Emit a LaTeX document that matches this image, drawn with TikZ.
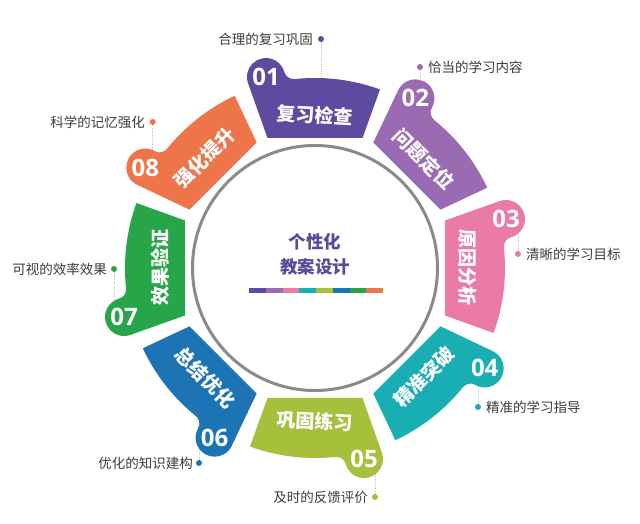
\documentclass[tikz,border=0pt]{standalone}
\usepackage{fontspec}
\newfontfamily\cjk{Noto Sans CJK SC}
\newfontfamily\numfont{Open Sans}
\definecolor{c1}{HTML}{5E4B9F}
\definecolor{c2}{HTML}{9A6BB3}
\definecolor{c3}{HTML}{E97BA6}
\definecolor{c4}{HTML}{18AEB4}
\definecolor{c5}{HTML}{A6C03B}
\definecolor{c6}{HTML}{1C74B4}
\definecolor{c7}{HTML}{27A548}
\definecolor{c8}{HTML}{EE744A}
\definecolor{ringgray}{HTML}{8A8A8A}
\definecolor{txtgray}{HTML}{3C3C3C}
\definecolor{ctrpurple}{HTML}{5B4A9B}
\tikzset{
  seglabel/.style={text=white, font=\cjk\bfseries\fontsize{19}{20}\selectfont, inner sep=0pt},
  numlabel/.style={text=white, font=\numfont\bfseries\fontsize{24}{24}\selectfont, inner sep=0pt},
  outlabel/.style={text=txtgray, font=\cjk\fontsize{13.5}{14}\selectfont, inner sep=0pt},
  ctrlabel/.style={text=ctrpurple, font=\cjk\bfseries\fontsize{17.5}{18}\selectfont, inner sep=0pt},
  dotmark/.style={circle, fill=#1, minimum size=6pt, inner sep=0pt},
  leader/.style={draw=gray!55, line width=0.7pt, dash pattern=on 0.8pt off 1.6pt},
}
\begin{document}
\begin{tikzpicture}[x=1pt,y=1pt]
\useasboundingbox (0,0) rectangle (640,524);
\fill[white] (0,0) rectangle (640,524);
\coordinate (O) at (315,256);

% segments
\foreach \a/\c in {90/c1,45/c2,0/c3,-45/c4,-90/c5,-135/c6,180/c7,135/c8}{
  \begin{scope}[shift={(315,256)},rotate=\a]
  \fill[\c] (130,-47.5) -- (-20:190) arc[start angle=-20,end angle=6,radius=190]
     .. controls (188.44,24.83) and (191.07,29.35) .. (195.9,30.65)
     arc[start angle=-75,end angle=110,radius=19] -- (130,47.5) -- cycle;
  \end{scope}
}

% central ring
\draw[ringgray, line width=3pt] (O) circle[radius=122.5];

% center text
\node[ctrlabel] (c1) at (315,282.5) {个性化};
\node[ctrlabel] (c2) at (315,257.5) {教案设计};
\foreach \i/\c in {0/c1,1/c2,2/c3,3/c4,4/c5,5/c6,6/c7,7/c8}{
  \fill[\c] (249+\i*16.75,230.7) rectangle (249+\i*16.75+16.75,235.7);
}

% segment labels
\node[seglabel, rotate=-3]  (s1) at ([shift={(90:153)}]O) {复习检查};
\node[seglabel, rotate=-45] (s2) at ([shift={(45:154)}]O) {问题定位};
\node[seglabel, rotate=-90] (s3) at ([shift={(0:153)}]O) {原因分析};
\node[seglabel, rotate=45]  (s4) at ([shift={(-45:154)}]O) {精准突破};
\node[seglabel, rotate=-3]  (s5) at ([shift={(-90:153)}]O) {巩固练习};
\node[seglabel, rotate=-45] (s6) at ([shift={(-135:155)}]O) {总结优化};
\node[seglabel, rotate=90]  (s7) at ([shift={(180:155)}]O) {效果验证};
\node[seglabel, rotate=45]  (s8) at ([shift={(135:156)}]O) {强化提升};

% numbers
\node[numlabel] (n1) at ([shift={(104.39:197.2)}]O) {01};
\node[numlabel] (n2) at ([shift={(59.39:197.2)}]O) {02};
\node[numlabel] (n3) at ([shift={(14.39:197.2)}]O) {03};
\node[numlabel] (n4) at ([shift={(-30.61:197.2)}]O) {04};
\node[numlabel] (n5) at ([shift={(-75.61:197.2)}]O) {05};
\node[numlabel] (n6) at ([shift={(-120.61:197.2)}]O) {06};
\node[numlabel] (n7) at ([shift={(194.39:197.2)}]O) {07};
\node[numlabel] (n8) at ([shift={(149.39:197.2)}]O) {08};

% leader ends
\coordinate (e1) at (321,446);
\coordinate (e2) at (420,444);
\coordinate (e3) at (518,290);
\coordinate (e4) at (478,138);
\coordinate (e5) at (375,50);
\coordinate (e6) at (199,75);
\coordinate (e7) at (114,223);
\coordinate (e8) at (152.7,374);

% dots
\node[dotmark=c1] (d1) at (321,485) {};
\node[dotmark=c2] (d2) at (420,457) {};
\node[dotmark=c3] (d3) at (518,270) {};
\node[dotmark=c4] (d4) at (478,117) {};
\node[dotmark=c5] (d5) at (375,27) {};
\node[dotmark=c6] (d6) at (199,61) {};
\node[dotmark=c7] (d7) at (114,255) {};
\node[dotmark=c8] (d8) at (152.7,402) {};

\foreach \i in {1,...,8}{ \draw[leader] (d\i) -- (e\i); }

% outer labels
\node[outlabel, anchor=east] (t1) at (313,485) {合理的复习巩固};
\node[outlabel, anchor=west] (t2) at (428,457) {恰当的学习内容};
\node[outlabel, anchor=west] (t3) at (526,270) {清晰的学习目标};
\node[outlabel, anchor=west] (t4) at (486,117) {精准的学习指导};
\node[outlabel, anchor=east] (t5) at (368,27) {及时的反馈评价};
\node[outlabel, anchor=east] (t6) at (193,61) {优化的知识建构};
\node[outlabel, anchor=east] (t7) at (107,255) {可视的效率效果};
\node[outlabel, anchor=east] (t8) at (145,402) {科学的记忆强化};
\end{tikzpicture}
\end{document}
